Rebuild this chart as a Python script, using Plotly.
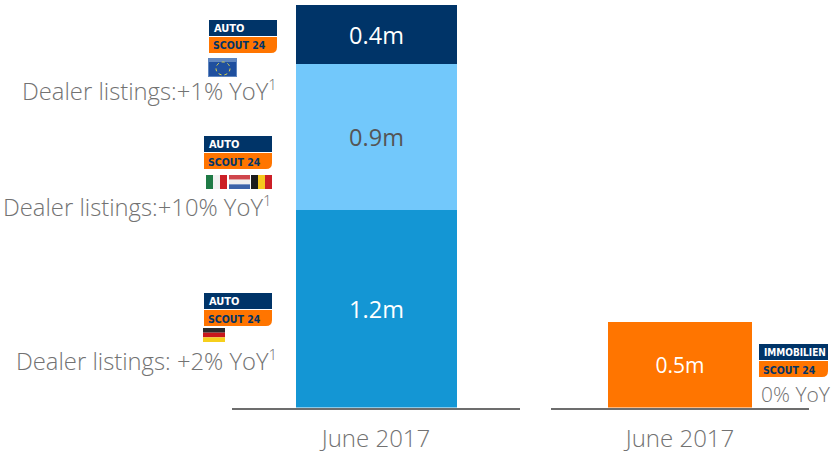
import plotly.graph_objects as go

W, H = 831, 451
period = ["June 2017"]
auto_series = ["Germany", "Italy, Netherlands, Belgium", "Other Europe"]
auto_values = [1.2, 0.88, 0.36]
auto_labels = ["1.2m", "0.9m", "0.4m"]
auto_colors = ["#1496d4", "#72c8fb", "#003468"]
auto_label_colors = ["#ffffff", "#555555", "#ffffff"]
immo_values = [0.52]
immo_labels = ["0.5m"]
SUP = '<sup><span style="font-size:15px">1</span></sup>'
callouts = ["Dealer listings:+1% YoY" + SUP,
            "Dealer listings:+10% YoY" + SUP,
            "Dealer listings: +2% YoY" + SUP]
immo_callout = "0% YoY"

NAVY, ORANGE = "#003468", "#ff7500"
GREY = "#727272"
FONT = "Open Sans"
LOGO_FONT = "DejaVu Sans Condensed, Roboto, sans-serif"
PX_PER_M = 165.0
BASE = 407.5

fig = go.Figure()
for name, v, lab, c, lc in zip(auto_series, auto_values, auto_labels, auto_colors, auto_label_colors):
    fig.add_trace(go.Bar(x=period, y=[v], name=name, width=0.559, marker=dict(color=c, line_width=0),
                         text=[lab], textposition="inside", insidetextanchor="middle", textangle=0,
                         textfont=dict(family=FONT, size=23.5, color=lc), xaxis="x", yaxis="y"))
fig.add_trace(go.Bar(x=period, y=immo_values, name="ImmobilienScout24", width=0.558,
                     marker=dict(color=ORANGE, line_width=0), text=immo_labels, textposition="inside",
                     insidetextanchor="middle", textangle=0,
                     textfont=dict(family=FONT, size=21, color="#ffffff"), xaxis="x2", yaxis="y2"))

shapes, annos = [], []
def X(p): return p / W
def Y(p): return 1 - p / H
def rect(x0, y0, x1, y1, color):
    shapes.append(dict(type="rect", xref="paper", yref="paper", x0=X(x0), x1=X(x1), y0=Y(y0), y1=Y(y1),
                       fillcolor=color, line_width=0, layer="above"))
def text(x, y, s, size, color, anchor="left", family=FONT, weight=None):
    annos.append(dict(xref="paper", yref="paper", x=X(x), y=Y(y), text=s, showarrow=False, xanchor=anchor,
                      yanchor="middle", borderpad=0, align=anchor,
                      font=dict(family=family, size=size, color=color, **({"weight": weight} if weight else {}))))
def logo(x0, y0, top="AUTO", w=68, gap=1, top_size=11):
    rect(x0, y0, x0 + w, y0 + 16, NAVY)
    y1, y2, x2 = y0 + 16 + gap, y0 + 33, x0 + w
    path = (f"M {X(x0)} {Y(y1)} L {X(x2)} {Y(y1)} L {X(x2)} {Y(y2 - 6)} "
            f"Q {X(x2)} {Y(y2)} {X(x2 - 6)} {Y(y2)} L {X(x0)} {Y(y2)} Z")
    shapes.append(dict(type="path", xref="paper", yref="paper", path=path, fillcolor=ORANGE, line_width=0, layer="above"))
    text(x0 + 4, y0 + 8.5, top, top_size, "#ffffff", family=LOGO_FONT, weight=700)
    text(x0 + 3, y1 + 8.5, "SCOUT 24", 10.5, NAVY, family=LOGO_FONT, weight=700)
def stripes_v(x0, y0, x1, y1, cols):
    w = (x1 - x0) / len(cols)
    for i, c in enumerate(cols):
        rect(x0 + i * w, y0, x0 + (i + 1) * w, y1, c)
def stripes_h(x0, y0, x1, y1, cols):
    h = (y1 - y0) / len(cols)
    for i, c in enumerate(cols):
        rect(x0, y0 + i * h, x1, y0 + (i + 1) * h, c)

logo(209, 20); logo(204, 136); logo(204, 293); logo(759, 344, top="IMMOBILIEN", w=69, top_size=10)

# EU flag
rect(208, 58, 237, 77, "#5f86c0")
rect(209, 62, 236, 76, "#1f4f9e")
shapes.append(dict(type="circle", xref="paper", yref="paper", x0=X(216), x1=X(230), y0=Y(62), y1=Y(75),
                   line=dict(color="#e0d84a", width=1, dash="dot"), layer="above"))
# IT / NL / BE flags
stripes_v(206, 175, 227, 189, ["#1f7a45", "#f1f1f1", "#cc1f26"])
stripes_h(229, 175, 250, 189, ["#d0464c", "#f0eeee", "#3c62a8"])
stripes_v(251, 175, 272, 189, ["#1c1c1c", "#f5c81e", "#cc1f26"])
# DE flag
stripes_h(203, 328, 225, 342, ["#2a2a2a", "#c8181c", "#f6cf1c"])

CALL_SIZE = 23.8
text(278, 90, callouts[0], CALL_SIZE, GREY, anchor="right", weight=300)
text(273, 206, callouts[1], CALL_SIZE, GREY, anchor="right", weight=300)
text(278, 360, callouts[2], CALL_SIZE, GREY, anchor="right", weight=300)
text(760, 394, immo_callout, 21, GREY, weight=300)

def xax(d0, d1):
    return dict(domain=[d0 / W, d1 / W], range=[-0.5, 0.5], type="category", showgrid=False, zeroline=False,
                showline=True, linecolor="#6d6d6d", linewidth=2, ticks="outside", ticklen=9, automargin=False,
                tickcolor="rgba(0,0,0,0)", tickfont=dict(family=FONT, size=24, color=GREY, weight=300))
def yax(anchor):
    return dict(domain=[(H - BASE) / H, 1], range=[0, BASE / PX_PER_M], visible=False, anchor=anchor, automargin=False)

fig.update_layout(
    width=W, height=H, margin=dict(l=0, r=0, t=0, b=0), paper_bgcolor="white", plot_bgcolor="white",
    barmode="stack", showlegend=False, bargap=0,
    xaxis=xax(232, 520), yaxis=yax("x"),
    xaxis2=dict(xax(551, 809), anchor="y2"), yaxis2=yax("x2"),
    shapes=shapes, annotations=annos,
)
fig.write_html("out.html", config={"displayModeBar": False},
               post_script="document.body.style.margin='0';document.documentElement.style.overflow='hidden';")
